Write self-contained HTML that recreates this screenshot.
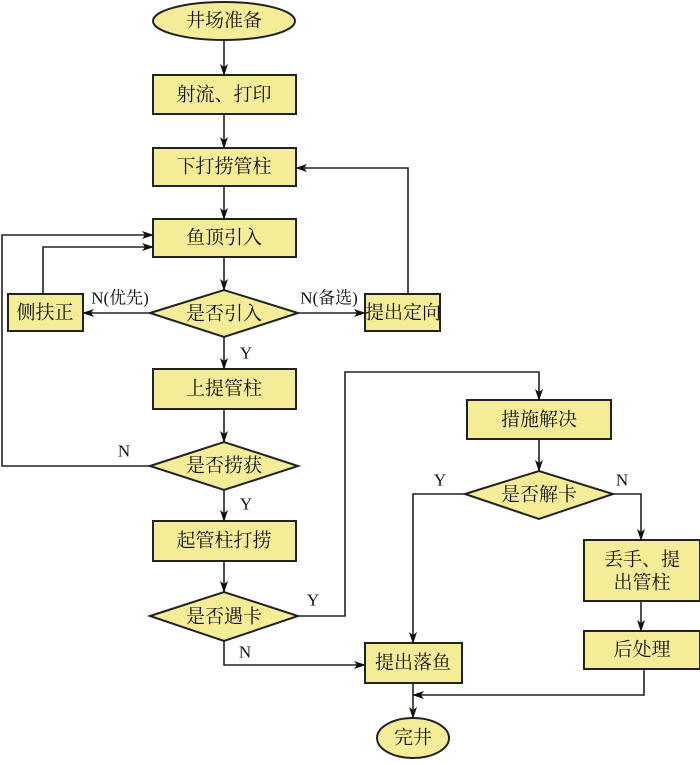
<!DOCTYPE html>
<html><head><meta charset="utf-8"><style>
html,body{margin:0;padding:0;background:#fff;}
svg text{font-family:"Liberation Serif","Noto Serif CJK SC","Noto Sans CJK SC",serif;fill:#111;}
.c{font-size:19px;text-anchor:middle;dominant-baseline:central;}
.l{font-size:17px;text-anchor:middle;dominant-baseline:central;}
</style></head><body>
<svg width="700" height="760" viewBox="0 0 700 760" xmlns="http://www.w3.org/2000/svg">
<defs><marker id="a" markerWidth="12" markerHeight="8" refX="11" refY="4" orient="auto" markerUnits="userSpaceOnUse"><path d="M0,0 L12,4 L0,8 L3,4 Z" fill="#111"/></marker></defs>
<g fill="#f5ec98" stroke="#222" stroke-width="2">
<ellipse cx="224" cy="21" rx="71" ry="19"/>
<rect x="153" y="75" width="143" height="39"/>
<rect x="153" y="148" width="143" height="38"/>
<rect x="153" y="219" width="143" height="38"/>
<polygon points="150,313 224,290 298,313 224,337"/>
<rect x="8" y="294" width="75" height="37"/>
<rect x="365" y="294" width="75" height="37"/>
<rect x="153" y="369" width="143" height="40"/>
<polygon points="150,466 224,442 298,466 224,490"/>
<rect x="153" y="521" width="143" height="40"/>
<polygon points="150,616 224,592 298,616 224,641"/>
<rect x="467" y="400" width="144" height="39"/>
<polygon points="465,494 539,471 613,494 539,519"/>
<rect x="584" y="540" width="116" height="61"/>
<rect x="584" y="631" width="116" height="38"/>
<rect x="365" y="643" width="97" height="40"/>
<ellipse cx="413" cy="738" rx="36" ry="20"/>
</g>
<g fill="none" stroke="#222" stroke-width="1.6" marker-end="url(#a)">
<path d="M224 40 V75"/>
<path d="M224 114 V148"/>
<path d="M224 186 V219"/>
<path d="M224 257 V290"/>
<path d="M150 313 H83"/>
<path d="M298 313 H365"/>
<path d="M408 294 V168 H296"/>
<path d="M43 294 V247 H153"/>
<path d="M150 466 H2 V235 H153"/>
<path d="M224 337 V369"/>
<path d="M224 409 V442"/>
<path d="M224 490 V521"/>
<path d="M224 561 V592"/>
<path d="M224 641 V665 H365"/>
<path d="M298 616 H345 V372 H539 V400"/>
<path d="M539 439 V471"/>
<path d="M465 494 H413 V643"/>
<path d="M613 494 H641 V540"/>
<path d="M641 601 V631"/>
<path d="M644 669 V695 H413"/>
<path d="M413 683 V718"/>
</g>
<text class="c" x="224" y="21">井场准备</text>
<text class="c" x="224" y="95">射流、打印</text>
<text class="c" x="224" y="167">下打捞管柱</text>
<text class="c" x="224" y="238">鱼顶引入</text>
<text class="c" x="224" y="314">是否引入</text>
<text class="c" x="45" y="313">侧扶正</text>
<text class="c" x="403" y="313">提出定向</text>
<text class="c" x="224" y="389">上提管柱</text>
<text class="c" x="224" y="466">是否捞获</text>
<text class="c" x="224" y="541">起管柱打捞</text>
<text class="c" x="224" y="617">是否遇卡</text>
<text class="c" x="539" y="420">措施解决</text>
<text class="c" x="539" y="495">是否解卡</text>
<text class="c" x="642" y="560">丢手、提</text>
<text class="c" x="642" y="583">出管柱</text>
<text class="c" x="642" y="650">后处理</text>
<text class="c" x="413" y="663">提出落鱼</text>
<text class="c" x="413" y="738">完井</text>
<text class="l" x="120" y="298">N(优先)</text>
<text class="l" x="329" y="298">N(备选)</text>
<text class="l" x="246" y="353">Y</text>
<text class="l" x="124" y="451">N</text>
<text class="l" x="246" y="504">Y</text>
<text class="l" x="313" y="600">Y</text>
<text class="l" x="245" y="652">N</text>
<text class="l" x="440" y="480">Y</text>
<text class="l" x="622" y="480">N</text>
</svg>
</body></html>
